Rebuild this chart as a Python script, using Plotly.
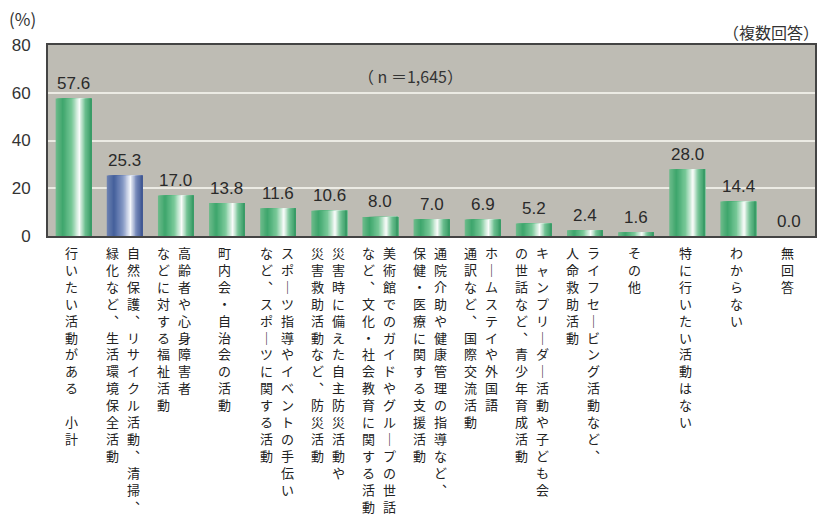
import plotly.graph_objects as go

# ---- data ----
labels = [
    ["行いたい活動がある　小計"],
    ["自然保護、リサイクル活動、清掃、", "緑化など、生活環境保全活動"],
    ["高齢者や心身障害者", "などに対する福祉活動"],
    ["町内会・自治会の活動"],
    ["スポーツ指導やイベントの手伝い", "など、スポーツに関する活動"],
    ["災害時に備えた自主防災活動や", "災害救助活動など、防災活動"],
    ["美術館でのガイドやグループの世話", "など、文化・社会教育に関する活動"],
    ["通院介助や健康管理の指導など、", "保健・医療に関する支援活動"],
    ["ホームステイや外国語", "通訳など、国際交流活動"],
    ["キャンプリーダー活動や子ども会", "の世話など、青少年育成活動"],
    ["ライフセービング活動など、", "人命救助活動"],
    ["その他"],
    ["特に行いたい活動はない"],
    ["わからない"],
    ["無回答"],
]
values = [57.6, 25.3, 17.0, 13.8, 11.6, 10.6, 8.0, 7.0, 6.9, 5.2, 2.4, 1.6, 28.0, 14.4, 0.0]
value_text = ["57.6", "25.3", "17.0", "13.8", "11.6", "10.6", "8.0", "7.0", "6.9", "5.2", "2.4", "1.6", "28.0", "14.4", "0.0"]
highlight_index = 1
categories = ["".join(c) for c in labels]
y_ticks = [0, 20, 40, 60, 80]

# ---- styling helpers ----
GREEN_STOPS = [(0.0, (110, 188, 140)), (0.2, (62, 166, 108)), (0.45, (120, 200, 152)),
               (0.66, (250, 252, 250)), (0.82, (110, 192, 145)), (1.0, (52, 152, 98))]
BLUE_STOPS = [(0.0, (110, 130, 178)), (0.2, (68, 96, 156)), (0.45, (132, 152, 196)),
              (0.66, (246, 248, 252)), (0.82, (118, 138, 186)), (1.0, (60, 84, 144))]


def profile(stops, t):
    for (t0, c0), (t1, c1) in zip(stops, stops[1:]):
        if t0 <= t <= t1:
            f = (t - t0) / (t1 - t0) if t1 > t0 else 0
            c = [round(a + (b - a) * f) for a, b in zip(c0, c1)]
            return "rgb(%d,%d,%d)" % tuple(c)
    return "rgb(%d,%d,%d)" % stops[-1][1]


def vert(s):
    rep = {"、": "︑", "ー": "｜"}
    return "<br>".join(rep.get(ch, ch) for ch in s)


fig = go.Figure()

BAR_W = 0.7
N = 28
step = BAR_W / N
for i in range(N):
    t = (i + 0.5) / N
    g = profile(GREEN_STOPS, t)
    b = profile(BLUE_STOPS, t)
    cols = [b if k == highlight_index else g for k in range(len(values))]
    fig.add_trace(go.Bar(
        x=categories, y=values,
        offset=-BAR_W / 2 + i * step, width=BAR_W - i * step,
        marker=dict(color=cols, line=dict(width=0)),
        hoverinfo="skip", showlegend=False,
    ))

annotations = []
# value labels above bars
for cat, v, txt in zip(categories, values, value_text):
    annotations.append(dict(
        x=cat, y=v, xref="x", yref="y", yanchor="middle", xanchor="center", yshift=15,
        text=txt, showarrow=False,
        font=dict(size=17, color="#2a2a2a", family="Liberation Sans, Arial"),
    ))

# vertical category labels
for cat, cols in zip(categories, labels):
    shifts = [-2] if len(cols) == 1 else [9, -12]
    for col, sh in zip(cols, shifts):
        annotations.append(dict(
            x=cat, xref="x", y=0, yref="paper", yanchor="top", xanchor="center",
            xshift=sh, yshift=-5, text=vert(col), showarrow=False, align="center",
            font=dict(size=13, color="#222", family="Noto Sans CJK JP"),
        ))

annotations += [
    dict(x=-0.033, y=1.14, xref="paper", yref="paper", xanchor="center", yanchor="middle",
         text="(%)", showarrow=False, font=dict(size=17, color="#333", family="Noto Sans CJK JP")),
    dict(x=1.0, y=1.07, xref="paper", yref="paper", xanchor="right", yanchor="middle", xshift=6,
         text="（複数回答）", showarrow=False, font=dict(size=16, color="#333", family="Noto Sans CJK JP")),
    dict(x=0.472, y=0.84, xref="paper", yref="paper", xanchor="center", yanchor="middle",
         text="（ n ＝1,645）", showarrow=False, font=dict(size=16, color="#333", family="Noto Sans CJK JP")),
]

fig.update_layout(
    width=819, height=523,
    margin=dict(l=48, r=2, t=45, b=287),
    paper_bgcolor="white", plot_bgcolor="#bebcb4",
    barmode="overlay",
    annotations=annotations,
    xaxis=dict(type="category", showticklabels=False, ticks="", showgrid=False,
               showline=True, linecolor="#444", linewidth=2, mirror=True,
               range=[-0.5, len(values) - 0.5]),
    yaxis=dict(range=[0, 80], tickvals=y_ticks, showgrid=True, gridcolor="#ecebe4", gridwidth=1.5,
               showline=True, linecolor="#444", linewidth=2, mirror=True, zeroline=False,
               ticks="", ticklabelstandoff=12,
               tickfont=dict(size=17, color="#333", family="Liberation Sans, Arial")),
)

fig.write_html("out.html", config={"displayModeBar": False},
               post_script="document.body.style.margin='0';")
